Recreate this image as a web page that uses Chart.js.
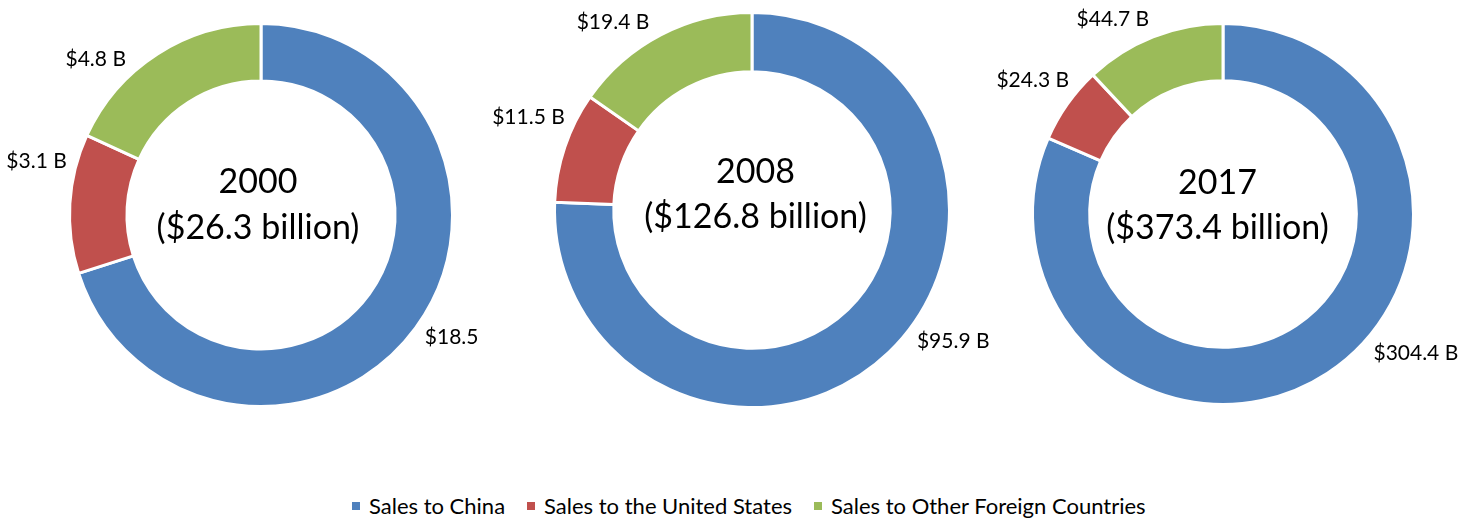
<!DOCTYPE html>
<html>
<head>
<meta charset="utf-8">
<script src="https://cdn.jsdelivr.net/npm/chart.js@4.4.1/dist/chart.umd.min.js"></script>
<style>
  html, body { margin: 0; padding: 0; background: #fff; }
  body { width: 1476px; height: 519px; position: relative; overflow: hidden; font-family: Lato, "Open Sans", sans-serif; }
  .ring { position: absolute; }
  #legend { position: absolute; left: 352px; top: 492px; display: flex; align-items: center; font-size: 22px; color: #000; white-space: nowrap; }
  #legend span.box { display: inline-block; width: 8px; height: 8px; margin-right: 9px; }
  #legend .item { display: flex; align-items: center; margin-right: 22px; }
</style>
</head>
<body>
<canvas id="ring2000" class="ring" width="520" height="430"></canvas>
<canvas id="ring2008" class="ring" width="520" height="430"></canvas>
<canvas id="ring2017" class="ring" width="520" height="430"></canvas>
<div id="legend"></div>

<script>
// données
const categories = ["Sales to China", "Sales to the United States", "Sales to Other Foreign Countries"];
const years = ["2000", "2008", "2017"];
const totals = ["$26.3 billion", "$126.8 billion", "$373.4 billion"];
const sales2000 = [18.5, 3.1, 4.8];
const sales2008 = [95.9, 11.5, 19.4];
const sales2017 = [304.4, 24.3, 44.7];
const labels2000 = ["$18.5", "$3.1 B", "$4.8 B"];
const labels2008 = ["$95.9 B", "$11.5 B", "$19.4 B"];
const labels2017 = ["$304.4 B", "$24.3 B", "$44.7 B"];

const colors = ["#4F81BD", "#C0504D", "#9BBB59"];

// mise en page (pixels de la page)
const layout = [
  { cx: 261, cy: 214.5, r: 191.5, tx: 258, ty1: 182, ty2: 228, nudge: [-3.5, 10, -14] },
  { cx: 751.5, cy: 209.5, r: 197.5, tx: 755, ty1: 172, ty2: 217, nudge: [-13, 4, -9] },
  { cx: 1222.5, cy: 214, r: 190.5, tx: 1217, ty1: 183, ty2: 228, nudge: [-21, 0, -8] },
];
const CW = 520, CH = 430;

// étiquettes autour de l'anneau + texte central
const ringText = {
  id: "ringText",
  afterDatasetsDraw(chart, args, opts) {
    const ctx = chart.ctx;
    const meta = chart.getDatasetMeta(0);
    ctx.save();
    ctx.fillStyle = "#000";
    ctx.textAlign = "center";
    ctx.textBaseline = "middle";
    ctx.font = "21px Lato, 'Open Sans', sans-serif";
    meta.data.forEach((arc, i) => {
      const p = arc.getProps(["x", "y", "startAngle", "endAngle", "outerRadius"], true);
      const a = (p.startAngle + p.endAngle) / 2 + (opts.nudge[i] * Math.PI) / 180;
      const dx = Math.cos(a), dy = Math.sin(a);
      const txt = opts.labels[i];
      const w = ctx.measureText(txt).width;
      const d = p.outerRadius + 8 + Math.abs(dx) * w / 2 + Math.abs(dy) * 8;
      ctx.fillText(txt, p.x + dx * d, p.y + dy * d);
    });
    ctx.font = "34px Lato, 'Open Sans', sans-serif";
    ctx.fillText(opts.year, opts.tx, opts.ty1);
    ctx.fillText("(" + opts.total + ")", opts.tx, opts.ty2);
    ctx.restore();
  },
};

function makeRing(id, values, labels, idx) {
  const L = layout[idx];
  const el = document.getElementById(id);
  const left = L.cx - CW / 2, top = L.cy - CH / 2;
  el.style.left = left + "px";
  el.style.top = top + "px";
  return new Chart(el, {
    type: "doughnut",
    data: {
      labels: categories,
      datasets: [{
        data: values,
        backgroundColor: colors,
        borderColor: "#fff",
        borderWidth: 3,
      }],
    },
    options: {
      responsive: false,
      animation: false,
      radius: L.r,
      cutout: "70%",
      layout: { padding: 0 },
      plugins: {
        legend: { display: false },
        tooltip: { enabled: false },
        ringText: {
          labels: labels,
          nudge: L.nudge,
          year: years[idx],
          total: totals[idx],
          tx: L.tx - left,
          ty1: L.ty1 - top,
          ty2: L.ty2 - top,
        },
      },
    },
    plugins: [ringText],
  });
}

makeRing("ring2000", sales2000, labels2000, 0);
makeRing("ring2008", sales2008, labels2008, 1);
makeRing("ring2017", sales2017, labels2017, 2);

// légende
const legend = document.getElementById("legend");
legend.innerHTML = categories
  .map((c, i) => `<div class="item"><span class="box" style="background:${colors[i]}"></span>${c}</div>`)
  .join("");
</script>
</body>
</html>
